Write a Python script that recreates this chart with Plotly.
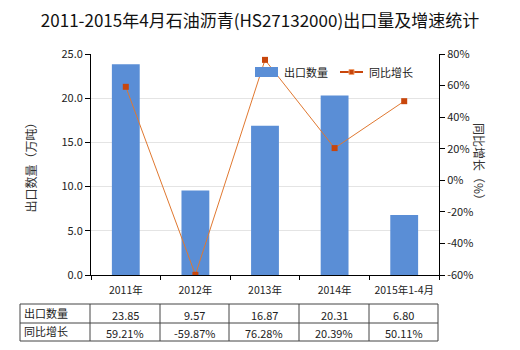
import plotly.graph_objects as go

categories = ["2011年", "2012年", "2013年", "2014年", "2015年1-4月"]
export_qty = [23.85, 9.57, 16.87, 20.31, 6.80]
yoy_growth = [59.21, -59.87, 76.28, 20.39, 50.11]
qty_labels = ["23.85", "9.57", "16.87", "20.31", "6.80"]
growth_labels = ["59.21%", "-59.87%", "76.28%", "20.39%", "50.11%"]
row_names = ["出口数量", "同比增长"]
series_names = ["出口数量", "同比增长"]
y2_tickvals = [-60, -40, -20, 0, 20, 40, 60, 80]
y2_ticktext = ["-60%", "-40%", "-20%", "0%", "20%", "40%", "60%", "80%"]

W, H = 520, 350
L, R, T, B = 91, 439, 54, 275
FONT = "Noto Sans CJK SC, Microsoft YaHei, sans-serif"
BAR_COLOR = "#5A8ED6"
LINE_COLOR = "#E07830"
MARK_COLOR = "#C8460C"

fig = go.Figure()
fig.add_trace(go.Bar(
    x=categories, y=export_qty, name=series_names[0],
    marker=dict(color=BAR_COLOR, line=dict(width=0)), width=0.4,
))
fig.add_trace(go.Scatter(
    x=categories, y=yoy_growth, name=series_names[1], yaxis="y2",
    mode="lines+markers",
    line=dict(color=LINE_COLOR, width=1),
    marker=dict(symbol="square", size=6, color=MARK_COLOR),
))

def px_x(p):
    return (p - L) / (R - L)

def px_y(p):
    return (B - p) / (B - T)

shapes = []
annotations = []
# table grid
col_x = [20, 90, 160, 229, 299, 369, 438]
row_y = [304, 323, 341]
for yy in row_y:
    shapes.append(dict(type="line", xref="paper", yref="paper",
                       x0=px_x(col_x[0]), x1=px_x(col_x[-1]), y0=px_y(yy), y1=px_y(yy),
                       line=dict(color="#444", width=1)))
for xx in col_x:
    shapes.append(dict(type="line", xref="paper", yref="paper",
                       x0=px_x(xx), x1=px_x(xx), y0=px_y(row_y[0]), y1=px_y(row_y[-1]),
                       line=dict(color="#444", width=1)))
rows = [qty_labels, growth_labels]
for r, (name, vals) in enumerate(zip(row_names, rows)):
    yc = (row_y[r] + row_y[r + 1]) / 2
    annotations.append(dict(xref="paper", yref="paper", x=px_x(col_x[0] + 2), y=px_y(yc - 1),
                            text=name, showarrow=False, xanchor="left", yanchor="middle",
                            font=dict(size=11, color="#222", family=FONT)))
    for c, v in enumerate(vals):
        xc = (col_x[c + 1] + col_x[c + 2]) / 2
        annotations.append(dict(xref="paper", yref="paper", x=px_x(xc), y=px_y(yc + 1),
                                text=v, showarrow=False, xanchor="center", yanchor="middle",
                                font=dict(size=11, color="#222", family=FONT)))

annotations.append(dict(xref="paper", yref="paper", x=px_x(490), y=0.5,
                        text="同比增长（%）", textangle=90, showarrow=False,
                        font=dict(size=12, color="#333", family=FONT)))

# manual legend
ly = 72
shapes.append(dict(type="rect", xref="paper", yref="paper",
                   x0=px_x(255), x1=px_x(278), y0=px_y(ly + 5), y1=px_y(ly - 5),
                   fillcolor=BAR_COLOR, line=dict(width=0)))
annotations.append(dict(xref="paper", yref="paper", x=px_x(282), y=px_y(ly),
                        text=series_names[0], showarrow=False, xanchor="left", yanchor="middle",
                        font=dict(size=11, color="#222", family=FONT)))
shapes.append(dict(type="line", xref="paper", yref="paper",
                   x0=px_x(340), x1=px_x(363), y0=px_y(ly), y1=px_y(ly),
                   line=dict(color=MARK_COLOR, width=2)))
shapes.append(dict(type="rect", xref="paper", yref="paper",
                   x0=px_x(349), x1=px_x(354), y0=px_y(ly + 2.5), y1=px_y(ly - 2.5),
                   fillcolor=MARK_COLOR, line=dict(color="#F0A070", width=1)))
annotations.append(dict(xref="paper", yref="paper", x=px_x(367), y=px_y(ly),
                        text=series_names[1], showarrow=False, xanchor="left", yanchor="middle",
                        font=dict(size=11, color="#222", family=FONT)))

fig.update_layout(
    width=W, height=H,
    margin=dict(l=L, r=W - R, t=T, b=H - B),
    paper_bgcolor="white", plot_bgcolor="white",
    font=dict(family=FONT, size=11, color="#222"),
    title=dict(text="2011-2015年4月石油沥青(HS27132000)出口量及增速统计",
               x=0.5, xanchor="center", y=1 - 21 / H, yanchor="middle",
               font=dict(size=17, color="#111", family=FONT)),
    showlegend=False,
    xaxis=dict(showline=True, linecolor="#000", linewidth=1, ticks="outside",
               tickson="boundaries", ticklen=4, tickcolor="#000", tickangle=0,
               ticklabelstandoff=5,
               tickfont=dict(size=10.5, color="#222")),
    yaxis=dict(range=[0, 25], dtick=5, tickformat=".1f", showline=True, linecolor="#000",
               ticks="outside", ticklen=5, tickcolor="#000",
               showgrid=True, gridcolor="#E4E4E4", gridwidth=1, zeroline=False,
               title=dict(text="出口数量（万吨）", font=dict(size=12, color="#333"), standoff=22),
               tickfont=dict(size=11, color="#222")),
    yaxis2=dict(range=[-60, 80], tickvals=y2_tickvals, ticktext=y2_ticktext,
                overlaying="y", side="right",
                showline=True, linecolor="#000", ticks="outside", ticklen=5, tickcolor="#000",
                showgrid=False, zeroline=False, tickfont=dict(size=11, color="#222")),
    bargap=0.6,
    shapes=shapes,
    annotations=annotations,
)

fig.write_html("out.html")
